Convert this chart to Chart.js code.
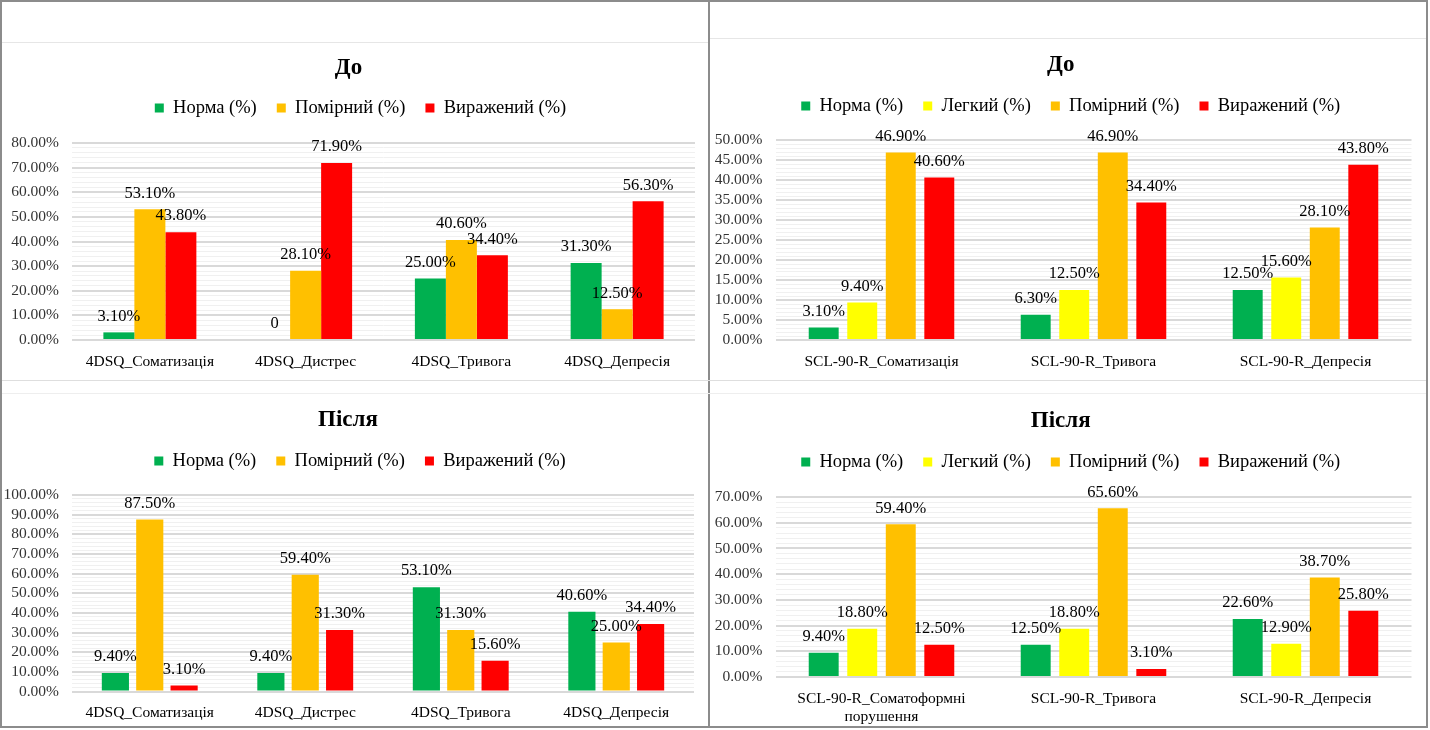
<!DOCTYPE html>
<html>
<head>
<meta charset="utf-8">
<script src="https://cdn.jsdelivr.net/npm/chart.js@4"></script>
<style>
  body { margin: 0; background: #fff; }
  #page { position: relative; width: 1430px; height: 730px; overflow: hidden; }
  canvas { position: absolute; }
  .line { position: absolute; }
</style>
</head>
<body>
<div id="page">
  <div class="line" style="left:0;top:0;width:1428px;height:2px;background:#8c8c8c"></div>
  <div class="line" style="left:0;top:726px;width:1428px;height:2px;background:#8c8c8c"></div>
  <div class="line" style="left:0;top:0;width:2px;height:728px;background:#8c8c8c"></div>
  <div class="line" style="left:1426px;top:0;width:2px;height:728px;background:#8c8c8c"></div>
  <div class="line" style="left:708px;top:0;width:2px;height:728px;background:#8c8c8c"></div>
  <div class="line" style="left:2px;top:42px;width:706px;height:1px;background:#e6e6e6"></div>
  <div class="line" style="left:710px;top:38px;width:716px;height:1px;background:#e6e6e6"></div>
  <div class="line" style="left:2px;top:380px;width:1424px;height:1px;background:#dedede"></div>
  <div class="line" style="left:2px;top:393px;width:1424px;height:1px;background:#eeeeee"></div>

  <canvas id="chartTL" width="706" height="334" style="left:2px;top:44px"></canvas>
  <canvas id="chartTR" width="716" height="338" style="left:710px;top:40px"></canvas>
  <canvas id="chartBL" width="706" height="331" style="left:2px;top:395px"></canvas>
  <canvas id="chartBR" width="716" height="331" style="left:710px;top:395px"></canvas>
</div>
<script>
// ---- data ----
const cats4dsq = ["4DSQ_Соматизація", "4DSQ_Дистрес", "4DSQ_Тривога", "4DSQ_Депресія"];
const catsSclBefore = ["SCL-90-R_Соматизація", "SCL-90-R_Тривога", "SCL-90-R_Депресія"];
const catsSclAfter = [["SCL-90-R_Соматоформні", "порушення"], "SCL-90-R_Тривога", "SCL-90-R_Депресія"];

// 4DSQ, before
const dsqBeforeNorm = [3.1, 0, 25.0, 31.3];
const dsqBeforeModerate = [53.1, 28.1, 40.6, 12.5];
const dsqBeforeSevere = [43.8, 71.9, 34.4, 56.3];

// SCL-90-R, before
const sclBeforeNorm = [3.1, 6.3, 12.5];
const sclBeforeMild = [9.4, 12.5, 15.6];
const sclBeforeModerate = [46.9, 46.9, 28.1];
const sclBeforeSevere = [40.6, 34.4, 43.8];

// 4DSQ, after
const dsqAfterNorm = [9.4, 9.4, 53.1, 40.6];
const dsqAfterModerate = [87.5, 59.4, 31.3, 25.0];
const dsqAfterSevere = [3.1, 31.3, 15.6, 34.4];

// SCL-90-R, after
const sclAfterNorm = [9.4, 12.5, 22.6];
const sclAfterMild = [18.8, 18.8, 12.9];
const sclAfterModerate = [59.4, 65.6, 38.7];
const sclAfterSevere = [12.5, 3.1, 25.8];

const titleBefore = "До";
const titleAfter = "Після";
const lblNorm = "Норма (%)";
const lblMild = "Легкий (%)";
const lblModerate = "Помірний (%)";
const lblSevere = "Виражений (%)";

// ---- styles ----
const FONT = "'Liberation Serif', 'Times New Roman', serif";
const GREEN = "#00B050", YELLOW = "#FFFF00", ORANGE = "#FFC000", RED = "#FF0000";
const LEGEND_PAD = 20;
const LEGEND_FONT = 18.5;
const TITLE_FONT = 23;

// value labels above bars
const barValues = {
  id: "barValues",
  afterDatasetsDraw(chart) {
    const ctx = chart.ctx;
    ctx.save();
    ctx.font = "16.5px " + FONT;
    ctx.fillStyle = "#000";
    ctx.textAlign = "center";
    ctx.textBaseline = "middle";
    chart.data.datasets.forEach((ds, i) => {
      chart.getDatasetMeta(i).data.forEach((bar, j) => {
        const v = ds.data[j];
        const txt = v === 0 ? "0" : v.toFixed(2) + "%";
        ctx.fillText(txt, bar.x, bar.y - 16);
      });
    });
    ctx.restore();
  }
};

// extra space under the legend + small horizontal nudge
const legendGap = {
  id: "legendGap",
  beforeInit(chart, args, opts) {
    const legend = chart.legend;
    const fit = legend.fit;
    legend.fit = function () {
      fit.call(this);
      this.height += opts.extra || 0;
    };
    const draw = legend.draw;
    legend.draw = function () {
      this.ctx.save();
      this.ctx.translate(opts.shiftX || 0, 0);
      draw.call(this);
      this.ctx.restore();
    };
  }
};

function makeChart(id, title, labels, series, box, yMax, major, minor, catPct, barPct) {
  const canvas = document.getElementById(id);
  const titlePadTop = box.titleY - TITLE_FONT / 2;
  const legendTop = box.legendY - LEGEND_FONT / 2 - LEGEND_PAD;
  const titlePadBottom = legendTop - (box.titleY + TITLE_FONT / 2);
  const extra = box.top - (legendTop + LEGEND_FONT + LEGEND_PAD + 10);

  return new Chart(canvas.getContext("2d"), {
    type: "bar",
    data: {
      labels: labels,
      datasets: series.map((s) => ({
        label: s.label,
        data: s.data,
        backgroundColor: s.color,
        borderWidth: 0,
        categoryPercentage: catPct,
        barPercentage: barPct
      }))
    },
    options: {
      responsive: false,
      animation: false,
      events: [],
      layout: { padding: { left: 0, top: 0, bottom: 0, right: canvas.width - box.right } },
      plugins: {
        title: {
          display: true,
          text: title,
          color: "#000",
          font: { family: FONT, size: TITLE_FONT, weight: "bold", lineHeight: 1 },
          padding: { top: titlePadTop, bottom: titlePadBottom }
        },
        legend: {
          display: true,
          labels: {
            color: "#000",
            font: { family: FONT, size: LEGEND_FONT },
            boxWidth: 9,
            boxHeight: 9,
            padding: LEGEND_PAD
          }
        },
        legendGap: { extra: extra, shiftX: box.legendShift },
        tooltip: { enabled: false }
      },
      scales: {
        x: {
          grid: { display: false, drawTicks: false },
          border: { display: false },
          ticks: {
            color: "#000",
            font: { family: FONT, size: 15.5, lineHeight: 1.22 },
            padding: 12,
            maxRotation: 0,
            autoSkip: false
          },
          afterFit: (axis) => { axis.height = canvas.height - box.bottom; }
        },
        y: {
          min: 0,
          max: yMax,
          border: { display: false },
          grid: {
            drawTicks: false,
            color: (c) => (Math.round(c.tick.value) % major === 0 ? "#d9d9d9" : "#f0f0f0"),
            lineWidth: (c) => (Math.round(c.tick.value) % major === 0 ? 2 : 1)
          },
          ticks: {
            stepSize: minor,
            maxTicksLimit: 200,
            autoSkip: false,
            color: "#333",
            font: { family: FONT, size: 15.5 },
            padding: 13,
            callback: (v) => (Math.round(v) % major === 0 ? v.toFixed(2) + "%" : "")
          },
          afterFit: (axis) => { axis.width = box.left; }
        }
      }
    },
    plugins: [barValues, legendGap]
  });
}

makeChart("chartTL", titleBefore, cats4dsq, [
  { label: lblNorm, data: dsqBeforeNorm, color: GREEN },
  { label: lblModerate, data: dsqBeforeModerate, color: ORANGE },
  { label: lblSevere, data: dsqBeforeSevere, color: RED }
], { titleY: 24, legendY: 64, top: 99, bottom: 296, left: 70, right: 693, legendShift: 12 }, 80, 10, 2, 0.597, 1.0);

makeChart("chartTR", titleBefore, catsSclBefore, [
  { label: lblNorm, data: sclBeforeNorm, color: GREEN },
  { label: lblMild, data: sclBeforeMild, color: YELLOW },
  { label: lblModerate, data: sclBeforeModerate, color: ORANGE },
  { label: lblSevere, data: sclBeforeSevere, color: RED }
], { titleY: 25, legendY: 66, top: 100, bottom: 300, left: 65.5, right: 701.5, legendShift: 10 }, 50, 5, 1, 0.727, 0.777);

makeChart("chartBL", titleAfter, cats4dsq, [
  { label: lblNorm, data: dsqAfterNorm, color: GREEN },
  { label: lblModerate, data: dsqAfterModerate, color: ORANGE },
  { label: lblSevere, data: dsqAfterSevere, color: RED }
], { titleY: 25, legendY: 66, top: 100, bottom: 296.5, left: 70, right: 692, legendShift: 12 }, 100, 10, 2, 0.663, 0.79);

makeChart("chartBR", titleAfter, catsSclAfter, [
  { label: lblNorm, data: sclAfterNorm, color: GREEN },
  { label: lblMild, data: sclAfterMild, color: YELLOW },
  { label: lblModerate, data: sclAfterModerate, color: ORANGE },
  { label: lblSevere, data: sclAfterSevere, color: RED }
], { titleY: 26, legendY: 67, top: 102, bottom: 282, left: 65.5, right: 701.5, legendShift: 10 }, 70, 10, 2, 0.727, 0.777);
</script>
</body>
</html>
